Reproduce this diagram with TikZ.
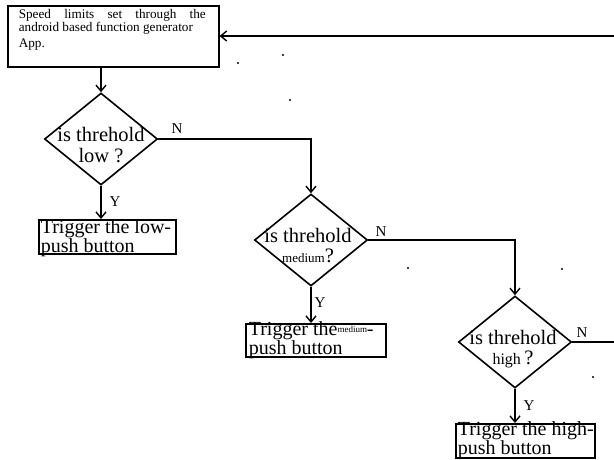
\documentclass[tikz,border=0pt]{standalone}
\usepackage{fontspec}
\setmainfont{Liberation Serif}
\usetikzlibrary{arrows.meta,shapes.geometric}
\begin{document}
\begin{tikzpicture}[x=1pt,y=-1pt,
  line width=1.6pt,
  arr/.style={-{Straight Barb[length=6pt,width=10pt,line width=1.4pt]}},
  dia/.style={draw,diamond,minimum width=113pt,minimum height=92pt,inner sep=0pt,line width=1.6pt},
  trig/.style={draw,rectangle,line width=1.6pt,anchor=north west,inner sep=0pt},
  lab/.style={font=\fontsize{15}{15}\selectfont,anchor=base},
  dtext/.style={font=\fontsize{20.5}{20.5}\selectfont,align=center,anchor=base,inner sep=0pt},
  ttext/.style={font=\fontsize{20}{18.5}\selectfont,align=left,anchor=base west,inner sep=0pt},
  tbtext/.style={font=\fontsize{13.2}{13.2}\selectfont,anchor=base west,inner sep=0pt},
  dot/.style={fill=black,circle,inner sep=0pt,minimum size=2.2pt}]
\useasboundingbox (0,0) rectangle (614,459);
% top box
\node[draw,rectangle,line width=1.6pt,anchor=north west,minimum width=211pt,minimum height=61pt,inner sep=0pt] (top) at (7,5) {};
\node[tbtext] (tt1) at (18,18) {\makebox[187pt][s]{Speed limits set through the}};
\node[tbtext] (tt2) at (18,31) {android based function generator};
\node[tbtext] (tt3) at (18,47) {App.};
% diamonds
\node[dia] (d1) at (101,139) {};
\node[dtext] (d1t) at (101,162) {is threhold\\low ?};
\node[dia] (d2) at (311,240) {};
\node[dtext,font=\fontsize{20.5}{20}\selectfont] (d2t) at (308,262) {is threhold\\{\fontsize{13}{13}\selectfont medium}?};
\node[dia] (d3) at (515,342) {};
\node[dtext,font=\fontsize{20.5}{20}\selectfont] (d3t) at (513,364) {is threhold\\{\fontsize{16}{16}\selectfont high}\,?};
% trigger boxes
\node[trig,minimum width=137pt,minimum height=34pt] (b1) at (38,219) {};
\node[ttext] (b1t) at (40,252) {Trigger the low-\\push button};
\node[trig,minimum width=140pt,minimum height=33pt] (b2) at (245,323) {};
\node[ttext] (b2t) at (248,354) {Trigger the{\fontsize{9}{9}\selectfont\raisebox{3pt}{medium}}-\\push button};
\node[trig,minimum width=139pt,minimum height=34pt] (b3) at (455,423) {};
\node[ttext] (b3t) at (457,454) {Trigger the high-\\push button};
% connectors
\draw[arr] (top.south -| d1.north) -- (d1.north);
\draw[arr] (d1.south) -- (b1.north -| d1.south);
\draw[arr] (d1.east) -| (d2.north);
\draw[arr] (d2.south) -- (b2.north -| d2.south);
\draw[arr] (d2.east) -| (d3.north);
\draw[arr] (d3.south) -- (b3.north -| d3.south);
\coordinate (fbin) at (614,36);
\coordinate (outn) at (614,342);
\draw (d3.east) -- (outn);
\draw[arr] (fbin) -- (top.east |- fbin);
% labels
\node[lab] (n1) at (177,133) {N};
\node[lab] (y1) at (115,206) {Y};
\node[lab] (n2) at (381,236) {N};
\node[lab] (y2) at (320,307) {Y};
\node[lab] (n3) at (582,337) {N};
\node[lab] (y3) at (529,410) {Y};
% stray dots
\node[dot] (p1) at (238,63) {};
\node[dot] (p2) at (283,55) {};
\node[dot] (p3) at (290,100) {};
\node[dot] (p4) at (408,268) {};
\node[dot] (p5) at (562,269) {};
\node[dot] (p6) at (593,377) {};
\end{tikzpicture}
\end{document}
